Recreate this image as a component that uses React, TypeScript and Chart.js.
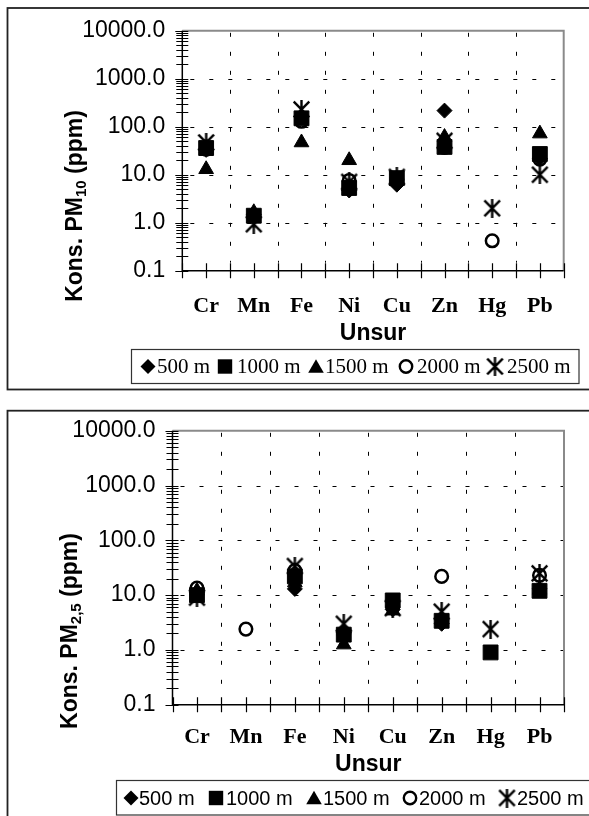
import React, { useEffect, useRef } from 'react';
import { Chart, registerables } from 'chart.js';

Chart.register(...registerables);

// ---------- data ----------
const categories = ['Cr', 'Mn', 'Fe', 'Ni', 'Cu', 'Zn', 'Hg', 'Pb'];
const seriesLabels = ['500 m', '1000 m', '1500 m', '2000 m', '2500 m'];
const yTickValues = [0.1, 1, 10, 100, 1000, 10000];

// PM10 (ppm)
const pm10_500 = [33, 1.5, 160, 4.7, 6.2, 217, null, 22];
const pm10_1000 = [36, 1.4, 150, 5.3, 8.5, 38, null, 27];
const pm10_1500 = [13, 1.65, 47, 20, 8, 61, null, 72];
const pm10_2000 = [34, null, 130, 7.6, 8, 37, 0.42, 21];
const pm10_2500 = [47, 0.93, 230, 7.1, 9, 51, 2.0, 10];

// PM2,5 (ppm)
const pm25_500 = [11, null, 13, 2.1, 5.5, 3.0, null, 13];
const pm25_1000 = [10, null, 22, 1.9, 8, 3.4, 0.9, 12];
const pm25_1500 = [12, null, 17, 1.25, 5.2, 3.6, null, 12.5];
const pm25_2000 = [13.5, 2.4, 28, 2.0, 6, 22, null, 23];
const pm25_2500 = [9, null, 34, 3.0, 5.8, 5.0, 2.4, 25];

// ---------- styles ----------
const markerKinds = ['diamond', 'square', 'triangle', 'circle', 'star'];

function makeAsterisk(size: number, lw: number) {
  const c = document.createElement('canvas');
  c.width = size;
  c.height = size;
  const g = c.getContext('2d')!;
  g.strokeStyle = '#000';
  g.lineWidth = lw;
  const m = lw / 2 + 0.5;
  g.beginPath();
  g.moveTo(m, m);
  g.lineTo(size - m, size - m);
  g.moveTo(size - m, m);
  g.lineTo(m, size - m);
  g.moveTo(size / 2, 0);
  g.lineTo(size / 2, size);
  g.stroke();
  return c;
}

function drawMarker(ctx: CanvasRenderingContext2D, kind: string, x: number, y: number, s: number, star: HTMLCanvasElement) {
  ctx.save();
  ctx.fillStyle = '#000';
  ctx.strokeStyle = '#000';
  ctx.setLineDash([]);
  if (kind === 'diamond') {
    const r = 7.5 * s;
    ctx.beginPath();
    ctx.moveTo(x - r, y);
    ctx.lineTo(x, y - r);
    ctx.lineTo(x + r, y);
    ctx.lineTo(x, y + r);
    ctx.closePath();
    ctx.fill();
  } else if (kind === 'square') {
    const h = 7.2 * s;
    ctx.fillRect(x - h, y - h, 2 * h, 2 * h);
  } else if (kind === 'triangle') {
    const r = 9 * s;
    ctx.beginPath();
    ctx.moveTo(x, y - r * 0.8);
    ctx.lineTo(x + r * 0.866, y + r * 0.7);
    ctx.lineTo(x - r * 0.866, y + r * 0.7);
    ctx.closePath();
    ctx.fill();
  } else if (kind === 'circle') {
    ctx.lineWidth = 2.4 * s;
    ctx.beginPath();
    ctx.arc(x, y, 6.2 * s, 0, Math.PI * 2);
    ctx.stroke();
  } else if (kind === 'star') {
    const w = star.width * s;
    ctx.drawImage(star, x - w / 2, y - w / 2, w, w);
  }
  ctx.restore();
}

type Layout = {
  frameTop: number;
  frameBottom: number;
  titleMain: string;
  titleSub: string;
  titleBaseX: number;
  titleCenterY: number;
  unsurY: number;
  legendBox: [number, number, number, number];
  legendFont: string;
  legendTextY: number;
  legendMarkerX: number[];
  legendTextX: number[];
  legendScale: number;
};

function makeDecor(L: Layout, star: HTMLCanvasElement) {
  return {
    id: 'decor',
    beforeDatasetsDraw(chart: any) {
      const { ctx, chartArea: a, scales } = chart;
      const x = scales.x;
      const y = scales.y;
      ctx.save();
      ctx.strokeStyle = '#000';
      ctx.lineWidth = 1;
      ctx.setLineDash([4, 15]);
      for (const v of yTickValues) {
        if (v === 0.1 || v === 10000) continue;
        const py = Math.round(y.getPixelForValue(v)) + 0.5;
        ctx.beginPath();
        ctx.moveTo(a.left + 8, py);
        ctx.lineTo(a.right, py);
        ctx.stroke();
      }
      for (let i = 1; i < categories.length; i++) {
        const px = Math.round((x.getPixelForValue(i - 1) + x.getPixelForValue(i)) / 2) + 0.5;
        ctx.beginPath();
        ctx.moveTo(px, a.top + 2);
        ctx.lineTo(px, a.bottom - 8);
        ctx.stroke();
      }
      ctx.restore();
    },
    afterDraw(chart: any) {
      const { ctx, chartArea: a, scales } = chart;
      const x = scales.x;
      const y = scales.y;
      ctx.save();
      ctx.setLineDash([]);
      // plot border (top / right gray)
      ctx.strokeStyle = '#8a8a8a';
      ctx.lineWidth = 2;
      ctx.beginPath();
      ctx.moveTo(a.left, a.top);
      ctx.lineTo(a.right, a.top);
      ctx.lineTo(a.right, a.bottom);
      ctx.stroke();
      // axes
      ctx.strokeStyle = '#000';
      ctx.lineWidth = 1.5;
      ctx.beginPath();
      ctx.moveTo(a.left, a.top);
      ctx.lineTo(a.left, a.bottom);
      ctx.lineTo(a.right, a.bottom);
      ctx.stroke();
      // y ticks (major + minor, crossing)
      ctx.lineWidth = 1.2;
      ctx.beginPath();
      for (let e = -1; e <= 4; e++) {
        for (let k = 1; k <= 9; k++) {
          const v = k * Math.pow(10, e);
          if (v > 10000.0001) break;
          const py = Math.round(y.getPixelForValue(v)) + 0.5;
          const len = k === 1 ? 7 : 6;
          ctx.moveTo(a.left - len, py);
          ctx.lineTo(a.left + 6, py);
        }
      }
      ctx.stroke();
      // x ticks at centres and boundaries
      ctx.beginPath();
      const half = (x.getPixelForValue(1) - x.getPixelForValue(0)) / 2;
      for (let i = 0; i < categories.length; i++) {
        const c = x.getPixelForValue(i);
        for (const px of [c - half, c, c + half]) {
          const p = Math.round(px) + 0.5;
          ctx.moveTo(p, a.bottom - 7.5);
          ctx.lineTo(p, a.bottom + 7.5);
        }
      }
      ctx.stroke();

      // y axis title with subscript
      ctx.fillStyle = '#000';
      const mainFont = 'bold 23px "Liberation Sans"';
      const subFont = 'bold 15px "Liberation Sans"';
      const p1 = L.titleMain;
      const p3 = ' (ppm)';
      ctx.font = mainFont;
      const w1 = ctx.measureText(p1).width;
      const w3 = ctx.measureText(p3).width;
      ctx.font = subFont;
      const w2 = ctx.measureText(L.titleSub).width;
      const total = w1 + w2 + w3;
      ctx.save();
      ctx.translate(L.titleBaseX, L.titleCenterY);
      ctx.rotate(-Math.PI / 2);
      ctx.textBaseline = 'alphabetic';
      ctx.textAlign = 'left';
      let sx = -total / 2;
      ctx.font = mainFont;
      ctx.fillText(p1, sx, 0);
      sx += w1;
      ctx.font = subFont;
      ctx.fillText(L.titleSub, sx, 4);
      sx += w2;
      ctx.font = mainFont;
      ctx.fillText(p3, sx, 0);
      ctx.restore();

      // x axis title
      ctx.font = 'bold 23px "Liberation Sans"';
      ctx.textAlign = 'center';
      ctx.textBaseline = 'middle';
      ctx.fillText('Unsur', (a.left + a.right) / 2, L.unsurY);

      // legend
      const [bx, by, bw, bh] = L.legendBox;
      ctx.strokeStyle = '#333';
      ctx.lineWidth = 1.2;
      ctx.strokeRect(bx, by, bw, bh);
      ctx.font = L.legendFont;
      ctx.textAlign = 'left';
      ctx.textBaseline = 'middle';
      for (let i = 0; i < seriesLabels.length; i++) {
        drawMarker(ctx, markerKinds[i], L.legendMarkerX[i], L.legendTextY, L.legendScale, star);
        ctx.fillStyle = '#000';
        ctx.fillText(seriesLabels[i], L.legendTextX[i], L.legendTextY + 1);
      }

      // outer frame
      ctx.strokeStyle = '#222';
      ctx.lineWidth = 1.8;
      ctx.strokeRect(7.5, L.frameTop, 640, L.frameBottom - L.frameTop);
      ctx.restore();
    },
  };
}

function buildDatasets(values: (number | null)[][], star: HTMLCanvasElement) {
  const common = { showLine: false, pointHoverRadius: 0, pointHitRadius: 0 };
  return [
    { ...common, label: seriesLabels[0], data: values[0], pointStyle: 'rectRot', pointRadius: 7.5, pointBackgroundColor: '#000', pointBorderColor: '#000', pointBorderWidth: 1, order: 5 },
    { ...common, label: seriesLabels[1], data: values[1], pointStyle: 'rect', pointRadius: 10.5, pointBackgroundColor: '#000', pointBorderColor: '#000', pointBorderWidth: 1, order: 4 },
    { ...common, label: seriesLabels[2], data: values[2], pointStyle: 'triangle', pointRadius: 8.5, pointBackgroundColor: '#000', pointBorderColor: '#000', pointBorderWidth: 1, order: 3 },
    { ...common, label: seriesLabels[3], data: values[3], pointStyle: 'circle', pointRadius: 6.3, pointBackgroundColor: 'rgba(0,0,0,0)', pointBorderColor: '#000', pointBorderWidth: 2.5, order: 2 },
    { ...common, label: seriesLabels[4], data: values[4], pointStyle: star, pointRadius: 9, pointBackgroundColor: '#000', pointBorderColor: '#000', pointBorderWidth: 0, order: 1 },
  ];
}

type ChartGeom = {
  width: number;
  height: number;
  plotLeft: number;
  plotRight: number;
  plotTop: number;
  plotBottom: number;
  xLabelPad: number;
};

function makeChart(canvas: HTMLCanvasElement, G: ChartGeom, L: Layout, values: (number | null)[][]) {
  const star = makeAsterisk(19, 2.4);
  return new Chart(canvas, {
    type: 'line',
    data: { labels: categories, datasets: buildDatasets(values, star) as any },
    options: {
      responsive: false,
      animation: false,
      events: [],
      layout: { padding: { left: 0, top: G.plotTop, right: G.width - G.plotRight, bottom: 0 } },
      plugins: { legend: { display: false }, tooltip: { enabled: false }, title: { display: false } },
      scales: {
        x: {
          type: 'category',
          offset: true,
          grid: { display: false, drawTicks: false },
          border: { display: false },
          ticks: {
            color: '#000',
            autoSkip: false,
            maxRotation: 0,
            padding: G.xLabelPad,
            font: { family: '"Liberation Serif"', size: 22, weight: 'bold', lineHeight: 1.2 },
          },
          afterFit: (s: any) => {
            s.height = G.height - G.plotBottom;
          },
        },
        y: {
          type: 'logarithmic',
          min: 0.1,
          max: 10000,
          grid: { display: false, drawTicks: false },
          border: { display: false },
          ticks: {
            color: '#000',
            autoSkip: false,
            padding: 17,
            font: { family: '"Liberation Sans"', size: 23, lineHeight: 1.2 },
            callback: (v: any) => Number(v).toFixed(1),
          },
          afterBuildTicks: (s: any) => {
            s.ticks = yTickValues.map((v) => ({ value: v }));
          },
          afterFit: (s: any) => {
            s.width = G.plotLeft;
          },
        },
      },
    } as any,
    plugins: [makeDecor(L, star)],
  });
}

const topGeom: ChartGeom = { width: 589, height: 400, plotLeft: 182.3, plotRight: 563.7, plotTop: 28, plotBottom: 270.7, xLabelPad: 22.4 };
const topLayout: Layout = {
  frameTop: 8,
  frameBottom: 389.5,
  titleMain: 'Kons. PM',
  titleSub: '10',
  titleBaseX: 82,
  titleCenterY: 206,
  unsurY: 334,
  legendBox: [131.5, 349.5, 447.5, 34],
  legendFont: '21px "Liberation Serif"',
  legendTextY: 366.5,
  legendMarkerX: [148, 225, 316, 406, 495],
  legendTextX: [157, 237, 325, 417, 507],
  legendScale: 1,
};

const botGeom: ChartGeom = { width: 589, height: 416, plotLeft: 172.5, plotRight: 564, plotTop: 30.7, plotBottom: 304.7, xLabelPad: 19.6 };
const botLayout: Layout = {
  frameTop: 10.7,
  frameBottom: 600,
  titleMain: 'Kons. PM',
  titleSub: '2,5',
  titleBaseX: 77,
  titleCenterY: 231,
  unsurY: 365,
  legendBox: [116.5, 380.5, 500, 34.5],
  legendFont: '20px "Liberation Sans"',
  legendTextY: 398,
  legendMarkerX: [131, 216, 314, 410, 507],
  legendTextX: [139, 226, 323, 419, 517],
  legendScale: 1,
};

export default function App() {
  const topRef = useRef<HTMLCanvasElement>(null);
  const botRef = useRef<HTMLCanvasElement>(null);

  useEffect(() => {
    const c1 = makeChart(topRef.current!, topGeom, topLayout, [pm10_500, pm10_1000, pm10_1500, pm10_2000, pm10_2500]);
    const c2 = makeChart(botRef.current!, botGeom, botLayout, [pm25_500, pm25_1000, pm25_1500, pm25_2000, pm25_2500]);
    return () => {
      c1.destroy();
      c2.destroy();
    };
  }, []);

  return (
    <div style={{ position: 'absolute', left: 0, top: 0, width: 589, height: 816, overflow: 'hidden', background: '#fff' }}>
      <canvas ref={topRef} width={589} height={400} style={{ position: 'absolute', left: 0, top: 0, width: 589, height: 400 }} />
      <canvas ref={botRef} width={589} height={416} style={{ position: 'absolute', left: 0, top: 400, width: 589, height: 416 }} />
    </div>
  );
}
